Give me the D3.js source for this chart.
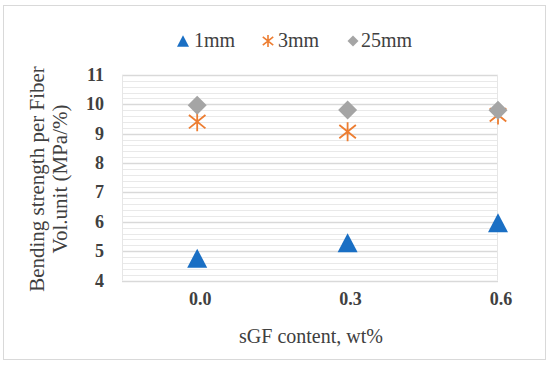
<!DOCTYPE html>
<html>
<head>
<meta charset="utf-8">
<script src="https://cdn.jsdelivr.net/npm/d3@7"></script>
<style>
  body { margin: 0; background: #fff; }
  text { font-family: "Liberation Serif", "Times New Roman", serif; fill: #404040; }
</style>
</head>
<body>
<div class="chart"></div>
<script>
var xValues = [0.0, 0.3, 0.6]
var xTickLabels = ["0.0", "0.3", "0.6"]
var yTicks = [4, 5, 6, 7, 8, 9, 10, 11]
var series1mm = [4.76, 5.29, 5.97]
var series3mm = [9.41, 9.07, 9.64]
var series25mm = [9.97, 9.81, 9.80]
var seriesNames = ["1mm", "3mm", "25mm"]

var width = 550,
  height = 369

var svg = d3.select(".chart").append("svg")
  .attr("width", width)
  .attr("height", height)

// outer border
svg.append("rect")
  .attr("x", 3.5).attr("y", 5.5)
  .attr("width", 542).attr("height", 354)
  .attr("fill", "#fff")
  .attr("stroke", "#d9d9d9")

var xScale = d3.scaleLinear().domain([-0.15, 0.6]).range([122, 498])
var yScale = d3.scaleLinear().domain([4, 11]).range([280.5, 75])

var plot = svg.append("g")

// minor gridlines every 0.2
var minor = d3.range(4, 11.001, 0.2).filter(function(v) { return Math.abs(v - Math.round(v)) > 0.01 })
plot.selectAll(".minor").data(minor).enter().append("line")
  .attr("x1", xScale.range()[0]).attr("x2", xScale.range()[1])
  .attr("y1", function(d) { return Math.round(yScale(d)) + 0.5 })
  .attr("y2", function(d) { return Math.round(yScale(d)) + 0.5 })
  .attr("stroke", "#e9e9e9")

plot.selectAll(".major").data(yTicks).enter().append("line")
  .attr("x1", xScale.range()[0]).attr("x2", xScale.range()[1])
  .attr("y1", function(d) { return Math.round(yScale(d)) + 0.5 })
  .attr("y2", function(d) { return Math.round(yScale(d)) + 0.5 })
  .attr("stroke", "#d9d9d9")
  .attr("stroke-width", 1.3)

// plot area frame (left/right light lines)
plot.append("line")
  .attr("x1", 122.5).attr("x2", 122.5)
  .attr("y1", yScale(11)).attr("y2", yScale(4))
  .attr("stroke", "#e6e6e6")
plot.append("line")
  .attr("x1", 497.5).attr("x2", 497.5)
  .attr("y1", yScale(11)).attr("y2", yScale(4))
  .attr("stroke", "#e6e6e6")

// y tick labels
svg.selectAll(".ylab").data(yTicks).enter().append("text")
  .attr("x", 104)
  .attr("y", function(d) { return yScale(d) + 6 })
  .attr("text-anchor", "end")
  .style("font-size", "18px")
  .style("font-weight", "bold")
  .text(function(d) { return d })

// x tick labels
svg.selectAll(".xlab").data(xValues).enter().append("text")
  .attr("x", function(d) { return xScale(d) + 3 })
  .attr("y", 305)
  .attr("text-anchor", "middle")
  .style("font-size", "18px")
  .style("font-weight", "bold")
  .text(function(d, i) { return xTickLabels[i] })

// axis titles
svg.append("text")
  .attr("x", 311).attr("y", 343)
  .attr("text-anchor", "middle")
  .style("font-size", "20px")
  .text("sGF content, wt%")

var yTitle = svg.append("text")
  .attr("transform", "translate(0,179) rotate(-90)")
  .attr("text-anchor", "middle")
  .style("font-size", "21px")
yTitle.append("tspan").attr("x", 0).attr("y", 44).text("Bending strength per Fiber")
yTitle.append("tspan").attr("x", 0).attr("y", 67).text("Vol.unit (MPa/%)")

// marker shapes
function triPath(s) {
  var h = s * 0.95
  return "M0," + (-h / 2) + "L" + (s / 2) + "," + (h / 2) + "L" + (-s / 2) + "," + (h / 2) + "Z"
}
function diaPath(s) {
  var r = s / 2
  return "M0," + (-r) + "L" + r + ",0L0," + r + "L" + (-r) + ",0Z"
}
function starPath(s) {
  var r = s / 2, p = ""
  p += "M0," + (-r) + "L0," + r
  p += "M" + (-r * 0.87) + "," + (-r * 0.7) + "L" + (r * 0.87) + "," + (r * 0.7)
  p += "M" + (r * 0.87) + "," + (-r * 0.7) + "L" + (-r * 0.87) + "," + (r * 0.7)
  return p
}

var blue = "#1a6fc4", orange = "#ed7d31", grey = "#a5a5a5"

plot.selectAll(".s3").data(series3mm).enter().append("path")
  .attr("d", starPath(19))
  .attr("transform", function(d, i) { return "translate(" + xScale(xValues[i]) + "," + yScale(d) + ")" })
  .attr("fill", "none")
  .attr("stroke", orange)
  .attr("stroke-width", 1.8)

plot.selectAll(".s25").data(series25mm).enter().append("path")
  .attr("d", diaPath(19))
  .attr("transform", function(d, i) { return "translate(" + xScale(xValues[i]) + "," + yScale(d) + ")" })
  .attr("fill", grey)

plot.selectAll(".s1").data(series1mm).enter().append("path")
  .attr("d", triPath(20))
  .attr("transform", function(d, i) { return "translate(" + xScale(xValues[i]) + "," + yScale(d) + ")" })
  .attr("fill", blue)

// legend
var legend = svg.append("g")
var legItems = [
  { name: seriesNames[0], x: 183, d: triPath(12), fill: blue, stroke: "none", tx: 194 },
  { name: seriesNames[1], x: 268, d: starPath(12), fill: "none", stroke: orange, tx: 278 },
  { name: seriesNames[2], x: 353, d: diaPath(11), fill: grey, stroke: "none", tx: 361 }
]
legItems.forEach(function(it) {
  legend.append("path")
    .attr("d", it.d)
    .attr("transform", "translate(" + it.x + ",41)")
    .attr("fill", it.fill)
    .attr("stroke", it.stroke)
    .attr("stroke-width", 1.6)
  legend.append("text")
    .attr("x", it.tx).attr("y", 47)
    .style("font-size", "20px")
    .text(it.name)
})
</script>
</body>
</html>
